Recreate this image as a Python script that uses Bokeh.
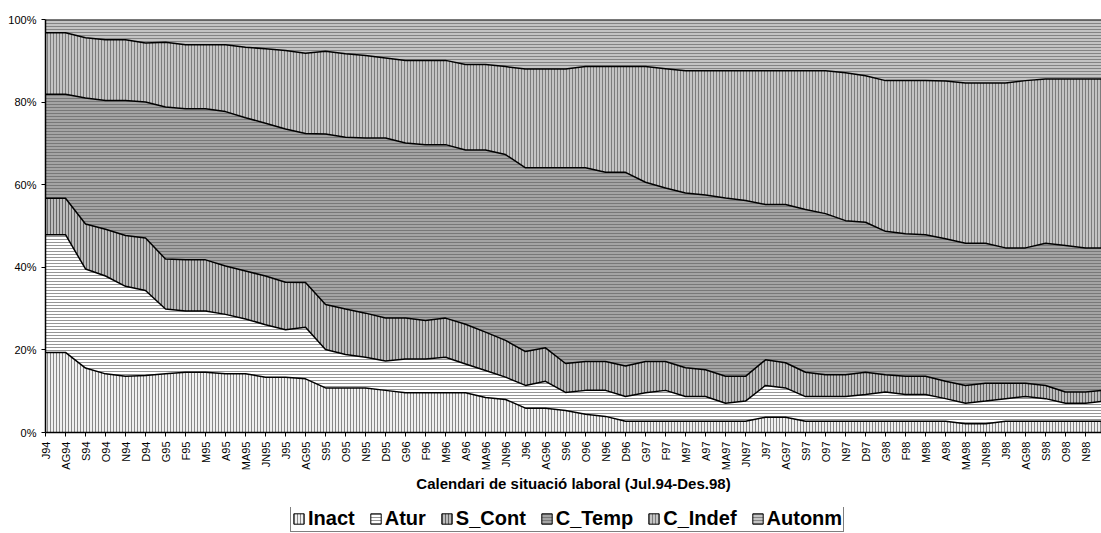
import numpy as np
from bokeh.plotting import figure
from bokeh.layouts import column
from bokeh.models import (Range1d, FixedTicker, PrintfTickFormatter, Legend,
                          LegendItem, ColumnDataSource)
from bokeh.embed import file_html
from bokeh.resources import INLINE

months = ["J94", "AG94", "S94", "O94", "N94", "D94",
          "G95", "F95", "M95", "A95", "MA95", "JN95", "J95", "AG95", "S95", "O95", "N95", "D95",
          "G96", "F96", "M96", "A96", "MA96", "JN96", "J96", "AG96", "S96", "O96", "N96", "D96",
          "G97", "F97", "M97", "A97", "MA97", "JN97", "J97", "AG97", "S97", "O97", "N97", "D97",
          "G98", "F98", "M98", "A98", "MA98", "JN98", "J98", "AG98", "S98", "O98", "N98", "D98"]

inact = [19.4, 19.4, 15.6, 14.2, 13.6, 13.8, 14.2, 14.6, 14.6, 14.2, 14.2, 13.4, 13.4, 13.0,
         10.8, 10.8, 10.8, 10.2, 9.6, 9.6, 9.6, 9.6, 8.5, 8.0,
         5.9, 5.9, 5.3, 4.4, 3.9, 2.7, 2.7, 2.7, 2.7, 2.7, 2.7, 2.7,
         3.7, 3.7, 2.7, 2.7, 2.7, 2.7, 2.7, 2.7, 2.7, 2.7,
         2.1, 2.1, 2.7, 2.7, 2.7, 2.7, 2.7, 2.7]
atur = [28.5, 28.5, 24.0, 23.7, 21.8, 20.6, 15.7, 14.8, 14.8, 14.4, 13.3, 12.7, 11.5, 12.5,
        9.3, 8.1, 7.4, 7.1, 8.2, 8.2, 8.6, 7.0, 6.5, 5.4,
        5.5, 6.5, 4.4, 5.8, 6.3, 6.0, 6.9, 7.5, 6.0, 6.0, 4.4, 4.9,
        7.7, 7.1, 6.0, 6.0, 6.0, 6.5, 7.1, 6.5, 6.5, 5.5,
        5.0, 5.5, 5.5, 6.0, 5.5, 4.4, 4.4, 4.9]
s_cont = [8.8, 8.8, 10.9, 11.3, 12.3, 12.7, 12.1, 12.4, 12.4, 11.7, 11.6, 11.8, 11.5, 10.8,
          10.9, 11.0, 10.7, 10.4, 9.9, 9.3, 9.5, 9.6, 9.3, 8.9,
          8.2, 8.1, 7.0, 7.0, 7.0, 7.4, 7.6, 7.0, 7.0, 6.5, 6.5, 6.0,
          6.2, 6.1, 5.9, 5.3, 5.3, 5.4, 4.2, 4.4, 4.4, 4.2,
          4.3, 4.3, 3.7, 3.2, 3.2, 2.7, 2.7, 2.7]
c_temp = [25.2, 25.2, 30.5, 31.2, 32.7, 32.9, 36.8, 36.6, 36.6, 37.4, 37.1, 37.0, 37.1, 36.1,
          41.3, 41.6, 42.4, 43.6, 42.4, 42.6, 42.0, 42.2, 44.1, 45.0,
          44.5, 43.6, 47.4, 46.9, 45.8, 46.9, 43.4, 42.0, 42.3, 42.3, 43.2, 42.6,
          37.6, 38.3, 39.4, 39.0, 37.3, 36.3, 34.7, 34.5, 34.3, 34.5,
          34.4, 33.9, 32.8, 32.8, 34.4, 35.5, 34.9, 34.4]
c_indef = [14.9, 14.9, 14.6, 14.7, 14.7, 14.3, 15.7, 15.5, 15.5, 16.2, 17.1, 18.0, 19.0, 19.4,
           20.0, 20.2, 20.0, 19.4, 20.0, 20.4, 20.4, 20.7, 20.7, 21.3,
           23.9, 23.9, 23.9, 24.5, 25.6, 25.6, 28.0, 28.9, 29.6, 30.1, 30.8, 31.4,
           32.4, 32.4, 33.6, 34.6, 35.8, 35.5, 36.5, 37.1, 37.3, 38.2,
           38.8, 38.8, 39.9, 40.5, 39.8, 40.3, 40.9, 40.9]
autonm = [3.2, 3.2, 4.4, 4.9, 4.9, 5.7, 5.5, 6.1, 6.1, 6.1, 6.7, 7.1, 7.5, 8.2,
          7.7, 8.3, 8.7, 9.3, 9.9, 9.9, 9.9, 10.9, 10.9, 11.4,
          12.0, 12.0, 12.0, 11.4, 11.4, 11.4, 11.4, 11.9, 12.4, 12.4, 12.4, 12.4,
          12.4, 12.4, 12.4, 12.4, 12.9, 13.6, 14.8, 14.8, 14.8, 14.9,
          15.4, 15.4, 15.4, 14.8, 14.4, 14.4, 14.4, 14.4]

series_names = ["Inact", "Atur", "S_Cont", "C_Temp", "C_Indef", "Autonm"]
x_title = "Calendari de situació laboral (Jul.94-Des.98)"
y_ticks = [0, 20, 40, 60, 80, 100]

raw = np.array([inact, atur, s_cont, c_temp, c_indef, autonm], dtype=float)
pct = raw / raw.sum(axis=0) * 100.0
cum = np.cumsum(pct, axis=0)
x = np.arange(len(months))

data = {"x": x}
for k, name in enumerate(series_names):
    data[name] = pct[k]
    data["c%d" % k] = cum[k]
    data["b%d" % k] = cum[k] - pct[k]
source = ColumnDataSource(data)

styles = [
    dict(fill_color="#f0f0f0", hatch_pattern="vertical_line", hatch_color="#888888"),
    dict(fill_color="#ffffff", hatch_pattern="horizontal_line", hatch_color="#969696"),
    dict(fill_color="#bcbcbc", hatch_pattern="vertical_line", hatch_color="#646464"),
    dict(fill_color="#a4a4a4", hatch_pattern="horizontal_line", hatch_color="#787878"),
    dict(fill_color="#c4c4c4", hatch_pattern="vertical_line", hatch_color="#7c7c7c"),
    dict(fill_color="#c4c4c4", hatch_pattern="horizontal_line", hatch_color="#848484"),
]

FONT = "Liberation Sans"

p = figure(width=1101, height=507, output_backend="svg", toolbar_location=None,
           x_range=Range1d(0, 52.8), y_range=Range1d(0, 100),
           min_border_left=45, min_border_right=0, min_border_top=19, min_border_bottom=75)
p.grid.visible = False
p.outline_line_color = None
p.background_fill_color = "white"
p.border_fill_color = "white"

for k, name in enumerate(series_names):
    p.varea(x="x", y1="b%d" % k, y2="c%d" % k, source=source,
            hatch_scale=3, hatch_weight=1, **styles[k])

for k in range(len(series_names)):
    p.line(x="x", y="c%d" % k, source=source, line_color="black", line_width=1.5)

xa = p.xaxis[0]
xa.ticker = FixedTicker(ticks=list(x))
xa.major_label_overrides = {int(i): m for i, m in enumerate(months)}
xa.major_label_orientation = np.pi / 2
xa.major_label_text_font = FONT
xa.major_label_text_font_size = "11px"
xa.major_label_text_color = "black"
xa.major_label_standoff = 5
xa.major_tick_in = 0
xa.major_tick_out = 4
xa.minor_tick_out = 0
xa.minor_tick_in = 0
xa.axis_line_color = "black"
xa.axis_line_width = 1.5
xa.major_tick_line_color = "black"
xa.axis_label = x_title
xa.axis_label_text_font = FONT
xa.axis_label_text_font_style = "bold"
xa.axis_label_text_font_size = "15px"
xa.axis_label_text_color = "black"
xa.axis_label_standoff = 2

ya = p.yaxis[0]
ya.ticker = FixedTicker(ticks=y_ticks)
ya.formatter = PrintfTickFormatter(format="%d%%")
ya.major_label_text_font = FONT
ya.major_label_text_font_size = "11px"
ya.major_label_text_color = "black"
ya.major_label_standoff = 5
ya.major_tick_in = 0
ya.major_tick_out = 4
ya.minor_tick_out = 0
ya.minor_tick_in = 0
ya.axis_line_color = "black"
ya.axis_line_width = 1.5
ya.major_tick_line_color = "black"

# legend strip below the chart
pl = figure(width=1101, height=25, output_backend="svg", toolbar_location=None,
            x_range=p.x_range, y_range=p.y_range,
            min_border_left=45, min_border_right=0, min_border_top=0, min_border_bottom=0)
pl.axis.visible = False
pl.grid.visible = False
pl.outline_line_color = None
pl.background_fill_color = "white"
pl.border_fill_color = "white"

items = []
for k, name in enumerate(series_names):
    r = pl.quad(left="x", right="x", bottom="b%d" % k, top="c%d" % k, source=source,
                line_color="black", line_width=1, hatch_scale=3, hatch_weight=1, **styles[k])
    r.visible = False
    items.append(LegendItem(label=name, renderers=[r]))

legend = Legend(items=items, orientation="horizontal", location=(245, 0),
                label_text_font=FONT, label_text_font_style="bold", label_text_font_size="20px",
                label_text_color="black", glyph_width=13, glyph_height=13, label_standoff=3,
                spacing=14, padding=1, margin=0, border_line_color="black", border_line_width=1,
                background_fill_color="white", background_fill_alpha=1,
                label_height=18, click_policy="none")
pl.add_layout(legend)

layout = column(p, pl, spacing=0)
open("out.html", "w").write(file_html(layout, INLINE))
